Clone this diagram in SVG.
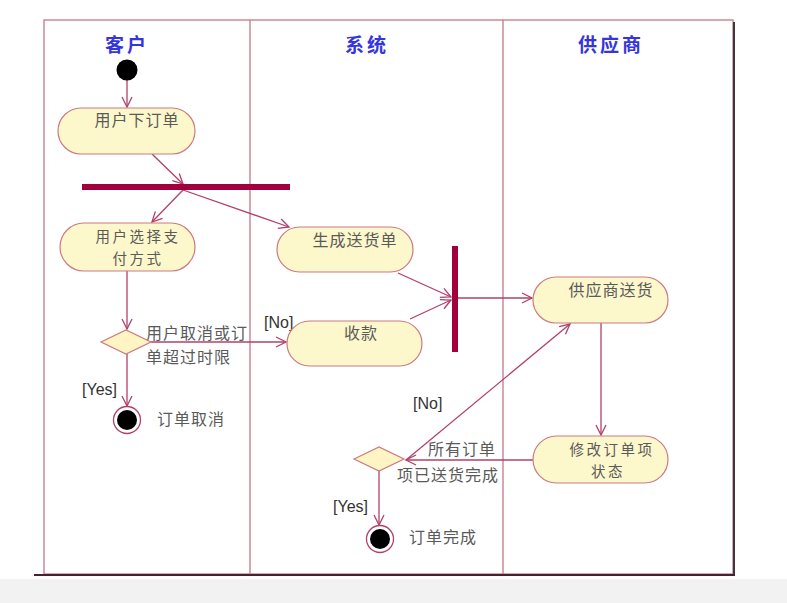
<svg xmlns="http://www.w3.org/2000/svg" width="787" height="603" viewBox="0 0 787 603">
<style>
.lane{fill:none;stroke:#c47888;stroke-width:1.3}
.title{font-family:"Noto Sans CJK SC","Noto Sans",sans-serif;font-size:19px;font-weight:bold;fill:#3535e0;text-anchor:middle;letter-spacing:3px}
.act{fill:#fdf7cc;stroke:#cc7a80;stroke-width:1.2}
.dia{fill:#fff4c4;stroke:#cc7a80;stroke-width:1.2}
.t{font-family:"Noto Sans CJK SC","Noto Sans",sans-serif;font-size:16px;fill:#5a5a5a;letter-spacing:1px}
.t2{font-family:"Noto Sans CJK SC","Noto Sans",sans-serif;font-size:14.5px;fill:#5a5a5a;letter-spacing:2.5px}
.c{text-anchor:middle}
.g{font-family:"Liberation Sans",Arial,sans-serif;font-size:16px;fill:#333}
.bar{fill:#a2003c}
.e{fill:none;stroke:#b2406a;stroke-width:1.3;marker-end:url(#arr)}
</style>
<defs>
<marker id="arr" markerUnits="userSpaceOnUse" markerWidth="14" markerHeight="14" refX="11" refY="6" orient="auto">
<path d="M1,1 L11,6 L1,11" fill="none" stroke="#b2406a" stroke-width="1.3"/>
</marker>
</defs>
<rect x="0" y="0" width="787" height="603" fill="#ffffff"/>
<rect x="0" y="579" width="787" height="24" fill="#f2f2f2"/>
<g id="frame">
<rect x="44" y="20" width="689" height="554" class="lane"/>
<line x1="250" y1="20" x2="250" y2="574" class="lane"/>
<line x1="503" y1="20" x2="503" y2="574" class="lane"/>
<line x1="734" y1="22" x2="734" y2="575" stroke="#3a3a3a" stroke-width="2"/>
<line x1="34" y1="575" x2="735" y2="575" stroke="#4a2030" stroke-width="2"/>
<text x="127" y="52" class="title">客户</text>
<text x="367" y="52" class="title">系统</text>
<text x="611" y="52" class="title">供应商</text>
</g>
<g id="connectors">
<line x1="127" y1="80" x2="127" y2="107" class="e"/>
<line x1="152" y1="154" x2="183" y2="184" class="e"/>
<line x1="183" y1="190" x2="152" y2="222" class="e"/>
<line x1="183" y1="190" x2="289" y2="227" class="e"/>
<line x1="127" y1="271" x2="127" y2="329" class="e"/>
<line x1="151" y1="342" x2="286" y2="342" class="e"/>
<line x1="127" y1="354" x2="127" y2="406" class="e"/>
<line x1="398" y1="273" x2="451" y2="297" class="e"/>
<line x1="410" y1="319" x2="451" y2="300" class="e"/>
<line x1="458" y1="298" x2="532" y2="298" class="e"/>
<line x1="601" y1="323" x2="601" y2="435" class="e"/>
<line x1="533" y1="460" x2="406" y2="460" class="e"/>
<line x1="406" y1="460" x2="570" y2="324" class="e"/>
<line x1="379" y1="471" x2="379" y2="525" class="e"/>
<text x="82" y="395" class="g">[Yes]</text>
<text x="264" y="328" class="g">[No]</text>
<text x="413" y="409" class="g">[No]</text>
<text x="333" y="512" class="g">[Yes]</text>
<text x="146" y="339" class="t">用户取消或订</text>
<text x="146" y="363" class="t">单超过时限</text>
<text x="428" y="455" class="t">所有订单</text>
<text x="397" y="481" class="t">项已送货完成</text>
</g>
<g id="start"><circle cx="127" cy="70" r="10.5" fill="#000"/></g>
<g id="order">
<rect x="58" y="108" width="137" height="46" rx="23" class="act"/>
<text x="137" y="126" class="t c">用户下订单</text>
</g>
<g id="fork"><rect x="82" y="184" width="208" height="6" class="bar"/></g>
<g id="pay">
<rect x="60" y="223" width="135" height="48" rx="24" class="act"/>
<text x="138" y="242" class="t2 c">用户选择支</text>
<text x="138" y="264" class="t2 c">付方式</text>
</g>
<g id="decision1"><polygon points="101,342 126,330 151,342 126,354" class="dia"/></g>
<g id="cancel">
<circle cx="127" cy="420" r="13.5" fill="#fff" stroke="#b2406a" stroke-width="1.3"/>
<circle cx="127" cy="420" r="10" fill="#000"/>
<text x="157" y="425" class="t">订单取消</text>
</g>
<g id="delivery">
<rect x="277" y="227" width="136" height="45" rx="22.5" class="act"/>
<text x="355" y="246" class="t c">生成送货单</text>
</g>
<g id="collect">
<rect x="287" y="321" width="135" height="45" rx="22.5" class="act"/>
<text x="361" y="339" class="t c">收款</text>
</g>
<g id="join"><rect x="452" y="246" width="6" height="106" class="bar"/></g>
<g id="ship">
<rect x="533" y="277" width="135" height="46" rx="23" class="act"/>
<text x="611" y="296" class="t c">供应商送货</text>
</g>
<g id="update">
<rect x="533" y="436" width="135" height="47" rx="23.5" class="act"/>
<text x="612" y="455" class="t2 c">修改订单项</text>
<text x="608" y="477" class="t2 c">状态</text>
</g>
<g id="decision2"><polygon points="354,459 379,447 404,459 379,471" class="dia"/></g>
<g id="done">
<circle cx="380" cy="539" r="13.5" fill="#fff" stroke="#b2406a" stroke-width="1.3"/>
<circle cx="380" cy="539" r="10" fill="#000"/>
<text x="409" y="543" class="t">订单完成</text>
</g>
</svg>
